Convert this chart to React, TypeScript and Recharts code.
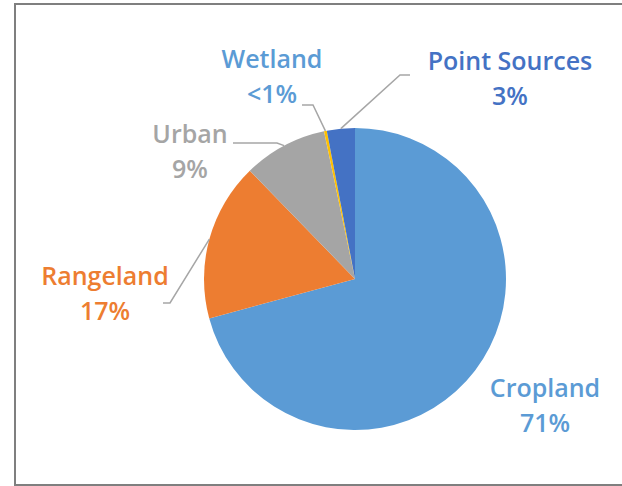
import { PieChart, Pie, Cell } from "recharts";

// land use sources, clockwise from 12 o'clock
const categories = ["Cropland", "Rangeland", "Urban", "Wetland", "Point Sources"];
const shares = [71, 17, 9, 0.3, 3];
const shareLabels = ["71%", "17%", "9%", "<1%", "3%"];

const sliceColors = ["#5B9BD5", "#ED7D31", "#A5A5A5", "#FFC000", "#4472C4"];
const textColors = ["#5B9BD5", "#ED7D31", "#A5A5A5", "#5B9BD5", "#4472C4"];

// label placement relative to the pie centre (manual, like the Excel original)
const labelLayout = [
  { dx: 190, dy: 118, leader: null },
  { dx: -250, dy: 6, leader: { elbow: [-185, 24], end: [-192, 24] } },
  { dx: -165, dy: -136, leader: { elbow: [-78, -136], end: [-122, -136] } },
  { dx: -83, dy: -211, leader: { elbow: [-42, -174], end: [-53, -174] } },
  { dx: 155, dy: -209, leader: { elbow: [45, -204], end: [55, -204] } },
];

const data = categories.map((name, i) => ({
  name,
  value: shares[i],
  label: shareLabels[i],
}));

const RADIAN = Math.PI / 180;

const renderLabel = (props: any) => {
  const { cx, cy, midAngle, outerRadius, index } = props;
  const layout = labelLayout[index];
  const lx = cx + layout.dx;
  const ly = cy + layout.dy;
  let leader = null;
  if (layout.leader) {
    const ex = cx + outerRadius * Math.cos(-midAngle * RADIAN);
    const ey = cy + outerRadius * Math.sin(-midAngle * RADIAN);
    const bx = cx + layout.leader.elbow[0];
    const by = cy + layout.leader.elbow[1];
    const tx = cx + layout.leader.end[0];
    const ty = cy + layout.leader.end[1];
    leader = (
      <polyline
        points={`${ex},${ey} ${bx},${by} ${tx},${ty}`}
        fill="none"
        stroke="#A6A6A6"
        strokeWidth={1.5}
      />
    );
  }
  return (
    <g key={`lbl-${index}`}>
      {leader}
      <text
        x={lx}
        y={ly}
        textAnchor="middle"
        fill={textColors[index]}
        fontFamily="'Open Sans', sans-serif"
        fontWeight={600}
        fontSize={25}
      >
        <tspan x={lx}>{categories[index]}</tspan>
        <tspan x={lx} dy={35}>
          {shareLabels[index]}
        </tspan>
      </text>
    </g>
  );
};

export default function App() {
  return (
    <div
      style={{
        position: "absolute",
        left: 0,
        top: 0,
        width: 622,
        height: 486,
        overflow: "hidden",
        background: "#fff",
      }}
    >
      <div
        style={{
          position: "absolute",
          left: 14,
          top: 3,
          width: 640,
          height: 479,
          border: "2px solid #7F7F7F",
        }}
      />
      <div style={{ position: "absolute", left: 0, top: 0 }}>
        <PieChart
          width={622}
          height={486}
          margin={{ top: 0, right: 0, bottom: 0, left: 0 }}
        >
          <Pie
            data={data}
            dataKey="value"
            nameKey="name"
            cx={355}
            cy={279}
            outerRadius={151}
            startAngle={90}
            endAngle={-270}
            stroke="none"
            label={renderLabel}
            labelLine={false}
            isAnimationActive={false}
          >
            {data.map((d, i) => (
              <Cell key={d.name} fill={sliceColors[i]} />
            ))}
          </Pie>
        </PieChart>
      </div>
    </div>
  );
}
